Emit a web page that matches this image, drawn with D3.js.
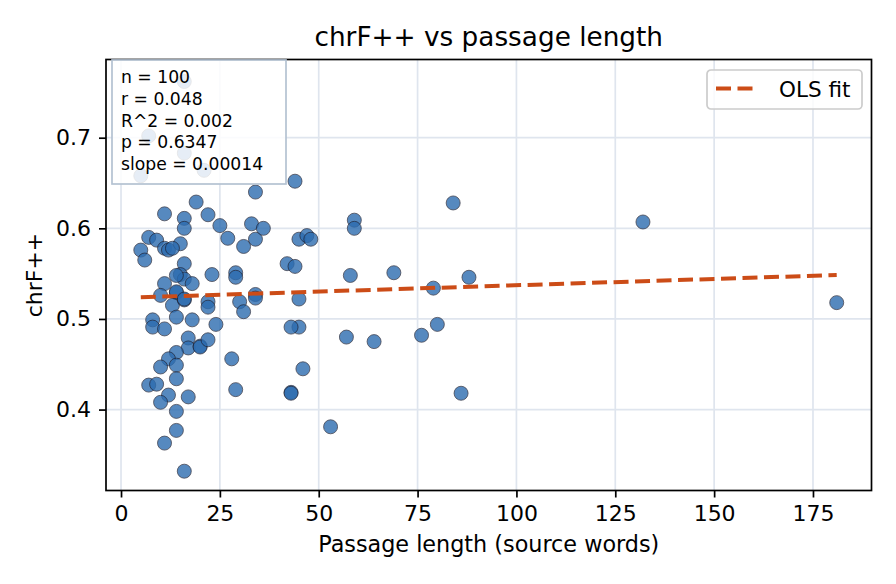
<!DOCTYPE html>
<html>
<head>
<meta charset="utf-8">
<script src="https://cdn.jsdelivr.net/npm/d3@7"></script>
<style>
  body { margin: 0; background: #fff; }
  svg { display: block; font-family: "DejaVu Sans", sans-serif; }
</style>
</head>
<body>
<svg width="896" height="584"></svg>
<script>
// source passage length (words) and chrF++ score per passage
var lengths = [16, 7, 16, 21, 5,
  19, 11, 16, 22, 16, 25, 27, 31, 34, 33, 36, 34, 44,
  7, 9, 11, 12, 15, 5, 6, 16, 15, 16, 18, 23, 29, 29, 42, 44,
  11, 10, 14, 14, 13, 16, 22, 22, 30, 31, 34, 34, 45,
  8, 8, 11, 14, 18, 24, 17, 17, 20, 20, 22, 14, 12, 10, 14, 28,
  7, 9, 14, 12, 10, 17, 29, 43, 43, 14, 14, 11, 16,
  59, 59, 45, 47, 48, 58, 69, 88, 79, 84,
  45, 43, 57, 64, 76, 80, 46, 86, 53, 132, 181,
  14, 16, 13];
var scores = [0.762, 0.702, 0.683, 0.664, 0.658,
  0.629, 0.616, 0.611, 0.615, 0.600, 0.603, 0.589, 0.580, 0.588, 0.605, 0.600, 0.640, 0.652,
  0.590, 0.587, 0.578, 0.576, 0.583, 0.576, 0.565, 0.561, 0.549, 0.544, 0.539, 0.549, 0.551, 0.546, 0.561, 0.558,
  0.539, 0.526, 0.529, 0.530, 0.515, 0.521, 0.519, 0.513, 0.519, 0.508, 0.527, 0.523, 0.522,
  0.499, 0.491, 0.489, 0.502, 0.499, 0.494, 0.479, 0.468, 0.470, 0.469, 0.477, 0.463, 0.456, 0.447, 0.449, 0.456,
  0.427, 0.428, 0.434, 0.416, 0.408, 0.414, 0.422, 0.419, 0.418, 0.398, 0.377, 0.363, 0.332,
  0.609, 0.600, 0.588, 0.592, 0.588, 0.548, 0.551, 0.546, 0.534, 0.628,
  0.491, 0.491, 0.480, 0.475, 0.482, 0.494, 0.445, 0.418, 0.381, 0.607, 0.518,
  0.548, 0.522, 0.578];

// OLS fit line at both ends
var fitX = [5, 181];
var fitY = [0.5239, 0.5485];

var xTicks = [0, 25, 50, 75, 100, 125, 150, 175];
var yTicks = [0.4, 0.5, 0.6, 0.7];
var statLines = ["n = 100", "r = 0.048", "R^2 = 0.002", "p = 0.6347", "slope = 0.00014"];

var svg = d3.select("svg"),
    margin = {top: 59.5, right: 24.5, bottom: 93.5, left: 106},
    width = +svg.attr("width") - margin.left - margin.right,
    height = +svg.attr("height") - margin.top - margin.bottom,
    g = svg.append("g").attr("transform", "translate(" + margin.left + "," + margin.top + ")");

var x = d3.scaleLinear().domain([-3.8, 189.8]).range([0, width]),
    y = d3.scaleLinear().domain([0.3107, 0.7863]).range([height, 0]);

// grid
g.selectAll(".gx").data(xTicks).enter().append("line")
    .attr("x1", function(d) { return x(d); }).attr("x2", function(d) { return x(d); })
    .attr("y1", 0).attr("y2", height)
    .style("stroke", "#dfe5ee").style("stroke-width", 1.7);
g.selectAll(".gy").data(yTicks).enter().append("line")
    .attr("x1", 0).attr("x2", width)
    .attr("y1", function(d) { return y(d); }).attr("y2", function(d) { return y(d); })
    .style("stroke", "#dfe5ee").style("stroke-width", 1.7);

// points
var pts = lengths.map(function(d, i) { return {len: d, score: scores[i]}; });
g.selectAll(".dot").data(pts).enter().append("circle")
    .attr("class", "dot")
    .attr("cx", function(d) { return x(d.len); })
    .attr("cy", function(d) { return y(d.score); })
    .attr("r", 7)
    .style("fill", "#2c6cb0")
    .style("stroke", "#1a1a2a")
    .style("stroke-width", 0.8)
    .style("opacity", 0.8);

// fit line
var line = d3.line()
    .x(function(d) { return x(d[0]); })
    .y(function(d) { return y(d[1]); });
g.append("path")
    .attr("d", line(fitX.map(function(d, i) { return [d, fitY[i]]; })))
    .style("fill", "none")
    .style("stroke", "#cc4c17")
    .style("stroke-width", 4)
    .style("stroke-dasharray", "15,6.5");

// axes
var xAxis = g.append("g")
    .attr("transform", "translate(0," + height + ")")
    .call(d3.axisBottom(x).tickValues(xTicks).tickSize(7).tickPadding(8).tickFormat(d3.format("d")));
var yAxis = g.append("g")
    .call(d3.axisLeft(y).tickValues(yTicks).tickSize(7).tickPadding(8).tickFormat(d3.format(".1f")));
[xAxis, yAxis].forEach(function(a) {
  a.select(".domain").remove();
  a.selectAll("line").style("stroke", "#000").style("stroke-width", 1.7);
  a.selectAll("text").style("font-family", "DejaVu Sans").style("font-size", "22px").style("fill", "#000");
});

// frame
g.append("rect")
    .attr("width", width).attr("height", height)
    .style("fill", "none").style("stroke", "#000").style("stroke-width", 1.7);

// stats box
var sb = g.append("g").attr("transform", "translate(6,0.5)");
sb.append("rect")
    .attr("width", 174).attr("height", 124)
    .style("fill", "#fff").style("fill-opacity", 0.85)
    .style("stroke", "#b4c2d2").style("stroke-width", 1.7);
sb.selectAll("text").data(statLines).enter().append("text")
    .attr("x", 9)
    .attr("y", function(d, i) { return 23 + i * 21.8; })
    .style("font-size", "17.2px")
    .text(function(d) { return d; });

// legend
var lg = svg.append("g").attr("transform", "translate(707,70)");
lg.append("rect")
    .attr("width", 155).attr("height", 39).attr("rx", 4)
    .style("fill", "#fff").style("fill-opacity", 0.8)
    .style("stroke", "#cccccc").style("stroke-width", 1.7);
lg.append("line")
    .attr("x1", 9).attr("x2", 49).attr("y1", 18.5).attr("y2", 18.5)
    .style("stroke", "#cc4c17").style("stroke-width", 4).style("stroke-dasharray", "15,6.5");
lg.append("text")
    .attr("x", 72).attr("y", 26.5)
    .style("font-size", "21.5px")
    .text("OLS fit");

// title + labels
svg.append("text")
    .attr("x", margin.left + width / 2).attr("y", 46)
    .attr("text-anchor", "middle")
    .style("font-size", "26.3px")
    .text("chrF++ vs passage length");
svg.append("text")
    .attr("x", margin.left + width / 2).attr("y", 552)
    .attr("text-anchor", "middle")
    .style("font-size", "22.3px")
    .text("Passage length (source words)");
svg.append("text")
    .attr("transform", "translate(42," + (margin.top + height / 2) + ") rotate(-90)")
    .attr("text-anchor", "middle")
    .style("font-size", "22px")
    .text("chrF++");
</script>
</body>
</html>
